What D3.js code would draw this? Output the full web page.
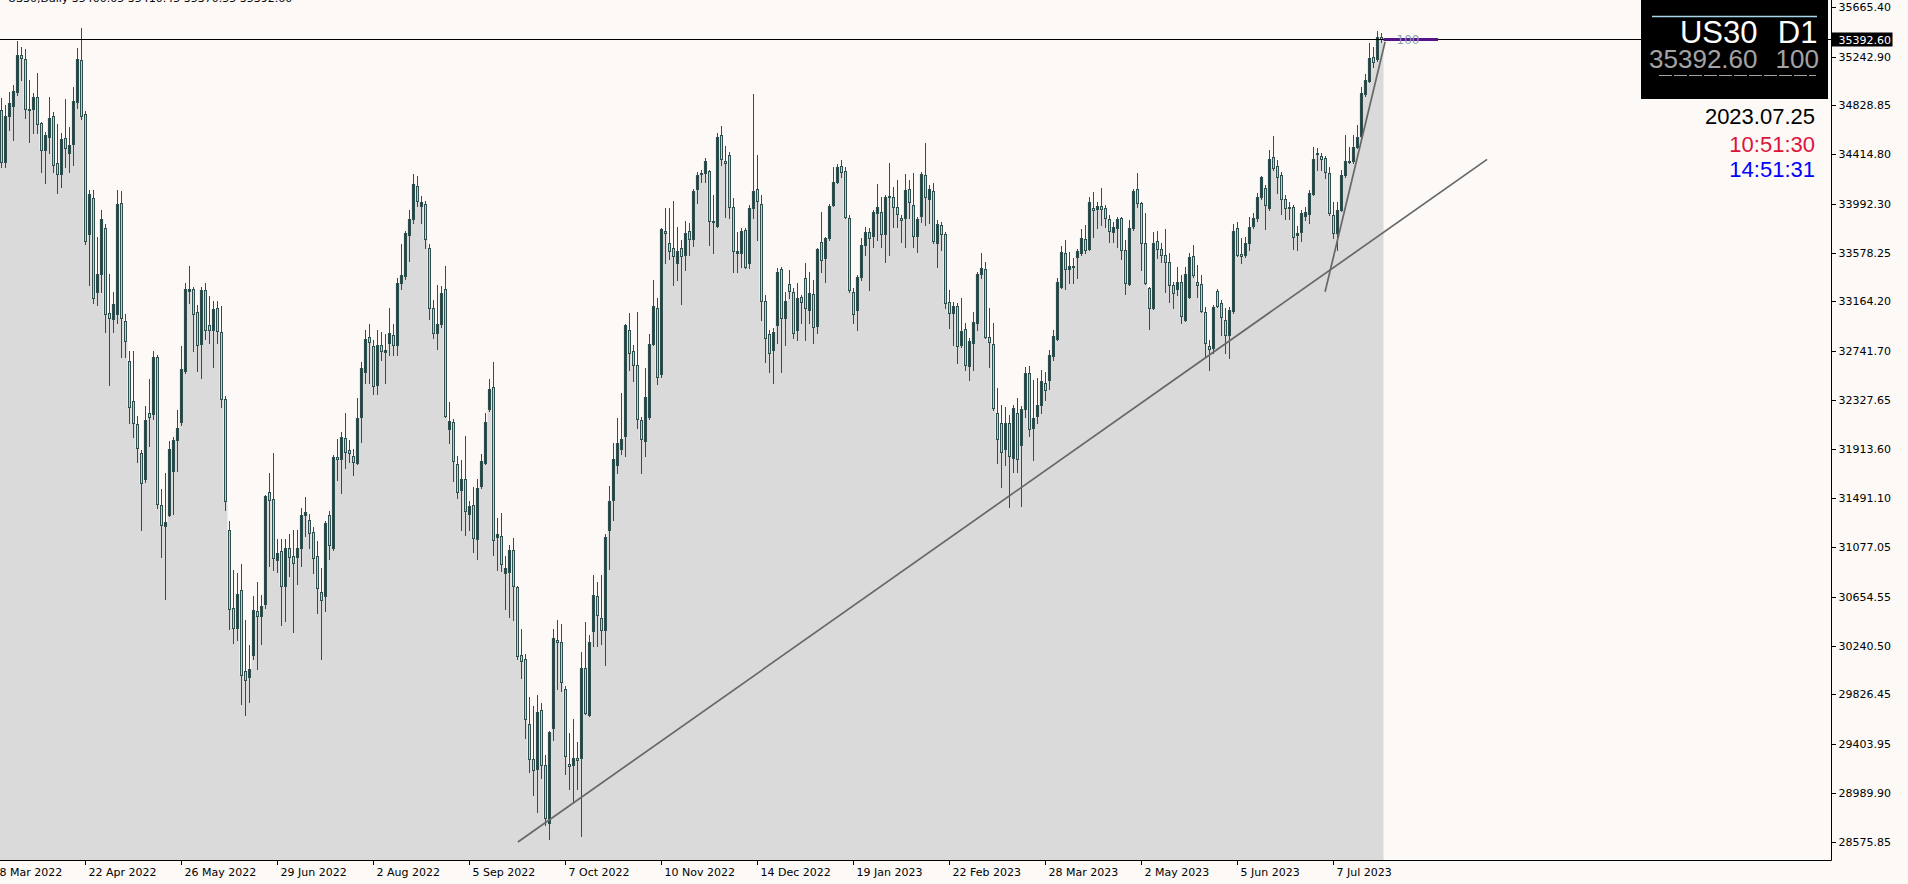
<!DOCTYPE html>
<html><head><meta charset="utf-8">
<script src="https://cdn.jsdelivr.net/npm/d3@7"></script>
<style>
html,body{margin:0;padding:0;background:#fcf9f6;overflow:hidden}
svg{display:block}
</style></head><body>
<svg id="chart" width="1908" height="884"></svg>
<script>
// ---- data (US30 daily, one entry per bar, oldest first) ----
const open = [
34793,34351,34742,34827,34946,35260,35226,34801,34801,34903,
34682,34453,34563,34742,34342,34249,34555,34427,34504,34861,
35217,34759,33739,34045,33247,33400,33790,33068,33017,33060,
34003,33000,32661,32321,32126,31879,31658,32219,32210,32695,
31438,31259,31353,31726,31990,32143,32576,33255,33272,33077,
32805,33264,32967,32924,33111,32907,32338,31225,30563,30393,
30716,30028,29977,30164,30537,30495,30597,31548,31489,30970,
31047,30750,31072,31004,30996,31072,31353,31310,31208,31004,
30699,30665,31353,31072,31845,31828,32007,31905,31854,31794,
32185,32567,32865,32788,32457,32797,32737,32814,32882,32797,
33323,33383,33731,33867,34147,33977,33994,33621,33111,32899,
32975,33272,32083,32143,31786,31565,31658,31361,31438,31149,
31599,31794,32253,32440,31166,31174,30860,30868,31055,30741,
30164,30130,29577,29280,29195,29696,29229,28737,29543,30291,
30274,29875,29238,29229,29289,29289,30053,29654,30367,30665,
30478,30376,31225,31480,31777,31913,32024,32924,32746,32627,
32160,31981,32185,32805,33111,32550,33765,33663,33621,33493,
33621,33561,33765,33697,34122,34258,34258,34275,33841,33807,
34580,34359,34410,33969,33578,33578,33773,33493,33960,34122,
33994,33170,32890,32754,32967,33442,33026,33315,33247,32924,
33204,33366,33094,33230,32958,33672,33536,33706,33986,34181,
34317,34275,33875,33247,33094,33374,33646,33756,33723,33918,
33926,33739,34062,34054,33969,33875,33875,34122,33986,33723,
33892,34241,34037,34105,33663,33816,33739,33162,33068,33128,
32797,32933,32618,32814,32983,33400,33442,32865,32805,32219,
32134,31913,32134,31837,32219,31947,32253,32559,32092,32194,
32287,32474,32500,32703,32848,33289,33578,33442,33468,33544,
33578,33697,33612,33960,33952,33977,33960,33867,33756,33790,
33875,33604,33315,33790,34122,34003,33663,33281,33111,33680,
33612,33561,33502,33306,33272,33332,33009,33205,33553,33332,
33315,33077,32788,32771,33255,33153,33009,32882,33086,33790,
33570,33561,33663,33807,33875,34054,34130,33960,34393,34317,
34241,34037,33969,33969,33731,33756,33892,33909,34079,34427,
34402,34385,34258,33901,33748,33943,34241,34359,34359,34478,
34572,34929,35039,35243,35226,35413];
const high = [
34895,34835,34946,35005,35379,35328,35311,35048,34937,35107,
34691,34606,34903,34776,34674,34597,34886,34648,34988,35319,
35489,34784,34113,34113,33714,33943,33824,33400,33247,34113,
34105,33060,32746,32746,32194,31905,32278,32508,32746,32712,
31573,31709,31981,32015,32245,32788,33323,33468,33289,33136,
33289,33323,33213,33170,33170,33128,32363,31302,30886,30860,
30937,30461,30248,30665,30784,30673,31522,31709,31879,31149,
31149,31149,31191,31225,31225,31412,31506,31361,31251,31132,
30902,31302,31387,31862,31998,32058,32219,31990,31913,32347,
32652,32924,32975,32839,32924,32907,32890,33111,32975,33366,
33654,33765,33943,34249,34232,34062,34020,33654,33179,33306,
33298,33468,32313,32168,31854,31820,32024,31472,31590,31658,
31871,32219,32508,32652,31327,31370,31004,31098,31157,30750,
30384,30172,29807,29730,29824,29756,29314,29518,30384,30461,
30427,29900,29501,29620,29424,30189,30444,30333,30843,30784,
30843,31191,31599,31964,32177,32389,32975,33069,32797,33077,
32185,32601,32890,33349,33196,33790,33960,33960,34020,33799,
33689,33850,33833,34122,34266,34283,34385,34283,34071,34597,
34657,34487,34436,34045,33756,33790,33790,33986,34929,34410,
34071,33221,32924,32941,33451,33459,33247,33434,33281,33323,
33221,33493,33417,33349,33621,33926,33714,33994,34308,34334,
34368,34308,33901,33281,33391,33706,33799,33790,33943,34164,
34054,34071,34342,34139,34198,33901,34249,34198,34258,33884,
34266,34512,34156,34173,33858,33841,33756,33264,33162,33153,
33196,32983,32856,33077,33417,33578,33502,33111,32983,32432,
32287,32270,32202,32287,32347,32278,32610,32618,32499,32516,
32584,32567,32754,32924,33366,33638,33689,33587,33536,33612,
33782,33816,34054,34096,34011,34130,33986,33901,33841,33884,
33884,33689,33858,34122,34258,34011,33918,33289,33756,33765,
33663,33782,33578,33332,33459,33391,33459,33578,33646,33476,
33391,33120,32839,33136,33272,33179,33111,33120,33824,33841,
33706,33714,33884,33918,34088,34232,34156,34453,34572,34368,
34266,34071,34011,33986,33807,33943,33969,34113,34478,34470,
34427,34402,34308,34011,34011,34283,34580,34478,34580,34665,
34988,35099,35362,35328,35464,35447];
const low = [
34308,34308,34623,34538,34920,35048,34725,34521,34597,34597,
34266,34173,34427,34266,34088,34139,34308,34266,34326,34810,
34716,33654,33306,33153,33136,33247,32907,32457,32907,32983,
32695,32695,32134,32015,31803,31225,31633,31939,32168,31412,
30996,30639,31344,31361,31726,32117,32559,33153,32746,32576,
32516,32848,32814,32610,32814,32270,31395,30384,30265,30291,
29747,29654,29764,30130,30045,30257,30563,30919,30886,30868,
30418,30452,30834,30359,30767,30919,31174,31072,30860,30520,
30130,30537,30979,31055,31650,31539,31752,31803,31692,31786,
31973,32474,32474,32380,32380,32669,32474,32712,32712,32712,
33272,33357,33510,33833,33977,33833,33621,33017,32856,32763,
32950,32185,31964,31642,31497,31225,31183,31225,31038,30979,
31582,31786,32236,31013,30886,30877,30554,30486,30461,30130,
29968,29458,29170,28974,28830,29119,28720,28600,29441,29875,
29858,29153,29025,28915,29025,28626,29662,29645,30240,30240,
30257,30079,30894,31310,31709,31871,31854,32584,32491,32092,
31709,31854,32168,32797,32465,32525,33493,33527,33306,33349,
33145,33434,33561,33638,34003,34181,34181,33646,33578,33799,
34326,33884,33875,33417,33417,33459,33451,33451,33875,33689,
33009,32652,32567,32474,32814,32567,32797,33196,32856,32839,
32983,32839,32983,32814,32899,33417,33332,33689,33977,34173,
34224,33875,33247,32983,32924,33349,33561,33264,33629,33689,
33629,33502,33561,33799,33799,33672,33629,33875,33629,33587,
33841,33816,33833,33663,33459,33604,33111,32941,32797,32644,
32780,32584,32499,32584,32924,33366,32856,32610,32245,31794,
31590,31777,31421,31718,31718,31429,32185,32024,31820,32134,
32219,32330,32423,32669,32839,33281,33272,33323,33323,33366,
33561,33578,33604,33714,33790,33816,33799,33672,33672,33629,
33527,33230,33306,33773,33969,33434,33315,32933,33102,33536,
33502,33247,33162,33111,33221,32983,33000,33196,33374,33205,
33077,32695,32584,32729,33120,32882,32729,32686,33068,33553,
33493,33544,33604,33790,33850,34037,33782,33943,34283,34088,
33909,33867,33867,33612,33604,33680,33858,33833,34071,34283,
34283,34215,33901,33706,33604,33935,34224,34342,34342,34470,
34563,34912,35031,35158,35209,35370];
const close = [
34351,34742,34852,34954,35260,35234,34801,34793,34903,34674,
34453,34580,34725,34326,34249,34546,34470,34495,34869,35226,
34742,33680,34079,33196,33400,33867,33060,33026,33145,33994,
33026,32831,32270,32134,31922,31624,32160,32185,32695,31446,
31268,31293,31913,31990,32092,32593,33272,33272,33060,32797,
33264,32924,32924,33102,32916,32338,31472,30554,30393,30682,
29994,29951,30045,30546,30495,30580,31514,31480,30987,31030,
30750,31072,30996,30945,31072,31353,31378,31200,30987,30733,
30631,31285,31098,31845,31828,32015,31888,31879,31803,32177,
32601,32848,32822,32448,32797,32746,32754,32899,32797,33323,
33391,33748,33867,34164,34020,34011,33697,33111,32899,32975,
33238,32194,32151,31811,31548,31658,31387,31429,31157,31582,
31811,32143,32423,31140,31191,30937,30902,31055,30750,30155,
30113,29620,29280,29187,29680,29229,28779,29509,30308,30274,
29934,29306,29221,29289,29272,30053,29671,30274,30673,30503,
30376,31166,31472,31828,31964,31998,32967,32729,32627,32168,
31998,32355,32805,33128,32525,33782,33748,33595,33553,33595,
33553,33748,33697,34105,34241,34249,34359,33850,33850,34563,
34377,34342,33969,33595,33595,33765,33459,33960,34105,34020,
33170,32856,32729,32907,33417,33026,33170,33255,32899,33196,
33162,33111,33238,32950,33612,33519,33706,33977,34181,34308,
34266,33884,33264,33060,33374,33646,33756,33706,33926,33969,
33739,34054,34054,33969,33909,33858,34113,34011,33723,33867,
34249,34054,34122,33680,33824,33739,33153,33068,33128,32788,
32916,32627,32831,32992,33400,33451,32865,32822,32262,31998,
31888,32134,31854,32262,31828,32253,32559,32083,32177,32287,
32491,32414,32712,32873,33332,33587,33442,33468,33459,33595,
33706,33604,34011,33943,33977,33952,33875,33765,33799,33867,
33604,33323,33790,34105,34003,33663,33323,33111,33663,33612,
33561,33502,33306,33238,33332,33043,33400,33544,33391,33306,
33086,32814,32763,33120,33128,33034,32882,33094,33765,33561,
33553,33663,33799,33875,34054,34224,33986,34377,34300,34224,
34037,33960,33960,33714,33748,33918,33926,34088,34377,34419,
34377,34266,33918,33748,33943,34241,34359,34351,34478,34563,
34937,35048,35234,35200,35413,35392.60];

const priceTicks = [35665.40,35242.90,34828.85,34414.80,33992.30,33578.25,33164.20,32741.70,
  32327.65,31913.60,31491.10,31077.05,30654.55,30240.50,29826.45,29403.95,28989.90,28575.85];
const dateLabels = ["18 Mar 2022","22 Apr 2022","26 May 2022","29 Jun 2022","2 Aug 2022","5 Sep 2022",
  "7 Oct 2022","10 Nov 2022","14 Dec 2022","19 Jan 2023","22 Feb 2023","28 Mar 2023","2 May 2023",
  "5 Jun 2023","7 Jul 2023"];
const dateBars = [-3,21,45,69,93,117,141,165,189,213,237,261,285,309,333];
const lastPrice = 35392.60;
const trendLines = [
  {b1:129.1, p1:28575.85, b2:371.4, p2:34373.5},
  {b1:330.9, p1:33249.7, b2:345.9, p2:35373.2}
];
const header = "US30,Daily  35400.05 35410.45 35370.55 35392.60";
const panelSymbol = "US30", panelTf = "D1", panelPrice = "35392.60", panelSpread = "100";
const infoDate = "2023.07.25", infoTime1 = "10:51:30", infoTime2 = "14:51:31";

// ---- drawing ----
const svg = d3.select("#chart");
const W = 1908, H = 884, axisX = 1831.5, axisY = 860.5;
const n = close.length;
const x = d3.scaleLinear().domain([0, n - 1]).range([1.5, 1.5 + 4 * (n - 1)]);
const y = d3.scaleLinear().domain([28575.85, 35665.40]).range([842, 7.3]);

svg.append("rect").attr("width", W).attr("height", H).attr("fill", "#fcf9f6");

const plot = svg.append("g");
plot.append("clipPath").attr("id","pc").append("rect").attr("x",0).attr("y",0).attr("width",axisX).attr("height",axisY);
const g = plot.append("g").attr("clip-path","url(#pc)");

// gray shadow area (close levels)
const steps = close.flatMap((c, k) => [[x(k) - 2, c], [x(k) + 2, c]]);
g.append("path").datum(steps)
  .attr("d", d3.area().x(d => d[0]).y0(axisY).y1(d => y(d[1])))
  .attr("fill", "#dadadb");

// candles
const bars = d3.range(n).map(k => ({k, o: open[k], h: high[k], l: low[k], c: close[k]}));
const cg = g.append("g").attr("shape-rendering", "crispEdges");
cg.selectAll("line.w").data(bars).join("line").attr("class","w")
  .attr("x1", d => x(d.k)).attr("x2", d => x(d.k))
  .attr("y1", d => Math.round(y(d.h))).attr("y2", d => Math.round(y(d.l)) + 1)
  .attr("stroke", "#2f4f4f").attr("stroke-width", 1);
cg.selectAll("rect.b").data(bars).join("rect").attr("class","b")
  .attr("x", d => x(d.k) - 1)
  .attr("y", d => Math.round(y(Math.max(d.o, d.c))) + 0.5)
  .attr("width", 2)
  .attr("height", d => Math.max(0, Math.round(y(Math.min(d.o, d.c))) - Math.round(y(Math.max(d.o, d.c)))))
  .attr("fill", d => d.c >= d.o ? "#0a2af5" : "#ffd800")
  .attr("stroke", "#2f4f4f").attr("stroke-width", 1);

// trend lines
g.selectAll("line.t").data(trendLines).join("line").attr("class","t")
  .attr("x1", d => x(d.b1)).attr("y1", d => y(d.p1))
  .attr("x2", d => x(d.b2)).attr("y2", d => y(d.p2))
  .attr("stroke", "#676767").attr("stroke-width", 1.7);

// last price line
const ly = Math.round(y(lastPrice)) + 0.5;
svg.append("line").attr("x1", 0).attr("x2", axisX).attr("y1", ly).attr("y2", ly)
  .attr("stroke", "#000").attr("stroke-width", 1);

// purple marker line + label
svg.append("line").attr("x1", x(n - 1) + 2).attr("x2", 1438).attr("y1", ly).attr("y2", ly)
  .attr("stroke", "#55148a").attr("stroke-width", 3);
svg.append("text").attr("x", 1408).attr("y", ly + 4.5).attr("text-anchor", "middle")
  .attr("font-family", "DejaVu Sans").attr("font-size", 12).attr("fill", "#8d9db4").text(panelSpread);

// axes lines
svg.append("line").attr("x1", axisX).attr("x2", axisX).attr("y1", 0).attr("y2", axisY).attr("stroke", "#000");
svg.append("line").attr("x1", 0).attr("x2", axisX).attr("y1", axisY).attr("y2", axisY).attr("stroke", "#000");

// price axis
const ya = svg.append("g").attr("transform", `translate(${axisX},0)`)
  .call(d3.axisRight(y).tickValues(priceTicks).tickFormat(d3.format(".2f")).tickSize(4).tickPadding(3).offset(0));
ya.select(".domain").remove();
ya.selectAll("line").attr("stroke", "#000").attr("shape-rendering","crispEdges");
ya.selectAll("text").attr("font-family", "DejaVu Sans").attr("font-size", 11).attr("fill", "#000");

// date axis
const xa = svg.append("g").attr("transform", `translate(0,${axisY})`)
  .call(d3.axisBottom(x).tickValues(dateBars).tickFormat((d, i) => dateLabels[i]).tickSize(4).tickPadding(4).offset(0));
xa.select(".domain").remove();
xa.selectAll("line").attr("stroke", "#000").attr("shape-rendering","crispEdges");
xa.selectAll("text").attr("text-anchor", "start").attr("x", 3)
  .attr("font-family", "DejaVu Sans").attr("font-size", 11).attr("fill", "#000");

// current price tag
svg.append("rect").attr("x", axisX).attr("y", ly - 7).attr("width", 61).attr("height", 14).attr("fill", "#000");
svg.append("text").attr("x", 1838.5).attr("y", ly + 4).attr("font-family", "DejaVu Sans").attr("font-size", 11)
  .attr("fill", "#fff").text(d3.format(".2f")(lastPrice));

// header text (mostly off-screen)
svg.append("text").attr("x", 8).attr("y", 1.5).attr("font-family", "DejaVu Sans").attr("font-size", 11)
  .attr("fill", "#000").text(header);

// info panel
svg.append("rect").attr("x", 1641).attr("y", 0).attr("width", 187).attr("height", 99).attr("fill", "#000");
svg.append("line").attr("x1", 1652).attr("x2", 1817).attr("y1", 16.5).attr("y2", 16.5)
  .attr("stroke", "#a9d6e8").attr("stroke-width", 1.5);
const pf = "Liberation Sans";
svg.append("text").attr("x", 1757.5).attr("y", 42.5).attr("text-anchor", "end").attr("font-family", pf)
  .attr("font-size", 31).attr("fill", "#fff").text(panelSymbol);
svg.append("text").attr("x", 1817.5).attr("y", 42.5).attr("text-anchor", "end").attr("font-family", pf)
  .attr("font-size", 31).attr("fill", "#fff").text(panelTf);
svg.append("text").attr("x", 1757.5).attr("y", 68).attr("text-anchor", "end").attr("font-family", pf)
  .attr("font-size", 26).attr("fill", "#a3a3a3").text(panelPrice);
svg.append("text").attr("x", 1819).attr("y", 68).attr("text-anchor", "end").attr("font-family", pf)
  .attr("font-size", 26).attr("fill", "#a3a3a3").text(panelSpread);
svg.append("line").attr("x1", 1659).attr("x2", 1816).attr("y1", 75.5).attr("y2", 75.5)
  .attr("stroke", "#a3a3a3").attr("stroke-width", 1).attr("stroke-dasharray", "13,2");

// date / times
const info = [[infoDate, "#000", 124], [infoTime1, "#dc143c", 151.5], [infoTime2, "#0000ff", 176.5]];
svg.selectAll("text.info").data(info).join("text").attr("class", "info")
  .attr("x", 1815).attr("y", d => d[2]).attr("text-anchor", "end").attr("font-family", pf)
  .attr("font-size", 22).attr("fill", d => d[1]).text(d => d[0]);
</script>
</body></html>
